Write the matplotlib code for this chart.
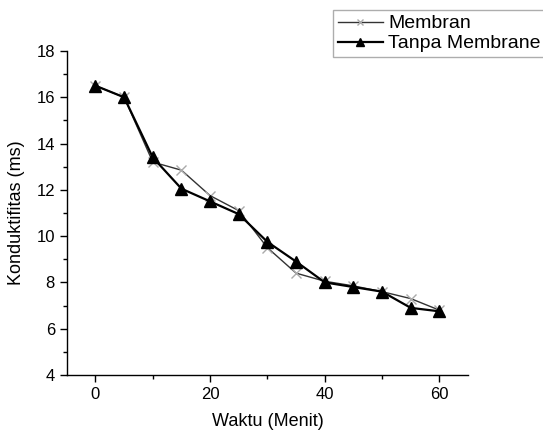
import matplotlib
matplotlib.use('Agg')
import matplotlib.pyplot as plt
from matplotlib.ticker import MultipleLocator

plt.rcParams['font.family'] = ['Liberation Sans', 'DejaVu Sans']

# data
waktu = [0, 5, 10, 15, 20, 25, 30, 35, 40, 45, 50, 55, 60]
membran = [16.5, 16.0, 13.2, 12.85, 11.75, 11.1, 9.5, 8.4, 8.05, 7.85, 7.6, 7.3, 6.8]
tanpa_membrane = [16.5, 16.0, 13.4, 12.05, 11.5, 10.95, 9.75, 8.9, 8.0, 7.8, 7.6, 6.9, 6.75]

fig = plt.figure(figsize=(5.43, 4.36), dpi=100)
ax = fig.add_axes([0.123, 0.140, 0.739, 0.743])

ax.plot(waktu, membran, color='#333333', lw=1.0, marker='x', ms=7,
        mec='#aaaaaa', mew=1.0, label='Membran')
ax.plot(waktu, tanpa_membrane, color='black', lw=1.6, marker='^', ms=8,
        mfc='black', mec='black', label='Tanpa Membrane')

ax.set_xlim(-5, 65)
ax.set_ylim(4, 18)
ax.xaxis.set_major_locator(MultipleLocator(20))
ax.xaxis.set_minor_locator(MultipleLocator(10))
ax.yaxis.set_major_locator(MultipleLocator(2))
ax.yaxis.set_minor_locator(MultipleLocator(1))
ax.tick_params(which='major', direction='out', length=5, width=1, labelsize=12)
ax.tick_params(which='minor', direction='out', length=3, width=1)

for s in ['top', 'right']:
    ax.spines[s].set_visible(False)
for s in ['left', 'bottom']:
    ax.spines[s].set_linewidth(1)

ax.set_xlabel('Waktu (Menit)', fontsize=13, labelpad=8)
ax.set_ylabel('Konduktifitas (ms)', fontsize=13, labelpad=8)

leg = fig.legend(loc='upper left', bbox_to_anchor=(333 / 543, 1 - 10 / 436),
                 fontsize=14, frameon=True, fancybox=False, edgecolor='#999999',
                 handlelength=2.3, handletextpad=0.3, borderpad=0.25,
                 labelspacing=0.12, borderaxespad=0, markerscale=0.65)
leg.get_frame().set_linewidth(1)

fig.savefig('out.png', dpi=100)
